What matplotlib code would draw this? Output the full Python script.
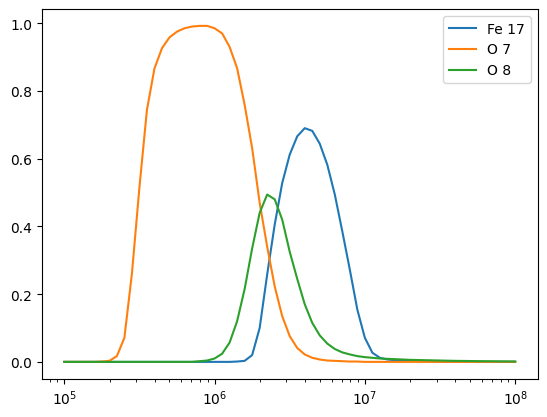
import matplotlib
matplotlib.use('Agg')
import matplotlib.pyplot as plt
import numpy as np

# log10 of temperature (K)
log_t = [5.00, 5.05, 5.10, 5.15, 5.20, 5.25, 5.30, 5.35, 5.40, 5.45,
         5.50, 5.55, 5.60, 5.65, 5.70, 5.75, 5.80, 5.85, 5.90, 5.95,
         6.00, 6.05, 6.10, 6.15, 6.20, 6.25, 6.30, 6.35, 6.40, 6.45,
         6.50, 6.55, 6.60, 6.65, 6.70, 6.75, 6.80, 6.85, 6.90, 6.95,
         7.00, 7.05, 7.10, 7.15, 7.20, 7.25, 7.30, 7.35, 7.40, 7.45,
         7.50, 7.55, 7.60, 7.65, 7.70, 7.75, 7.80, 7.85, 7.90, 7.95,
         8.00]

labels = ['Fe 17', 'O 7', 'O 8']

fe17 = [0.0] * 23 + [0.001, 0.003, 0.02, 0.1, 0.258, 0.405, 0.528, 0.612,
                     0.666, 0.69, 0.682, 0.644, 0.582, 0.494, 0.385, 0.272,
                     0.154, 0.071, 0.027, 0.012, 0.007, 0.005, 0.004, 0.003,
                     0.002, 0.002, 0.001, 0.001] + [0.0] * 10

o7 = [0.0, 0.0, 0.0, 0.0, 0.0, 0.001,
      0.003, 0.017, 0.071, 0.26, 0.515, 0.744, 0.866, 0.926, 0.958, 0.975,
      0.985, 0.99, 0.992, 0.992, 0.985, 0.97, 0.93, 0.867, 0.759, 0.631,
      0.47, 0.34, 0.223, 0.135, 0.076, 0.041, 0.022, 0.012, 0.007, 0.004,
      0.003, 0.002, 0.001, 0.001] + [0.0] * 21

o8 = [0.0] * 18 + [0.002, 0.004, 0.01, 0.024, 0.057, 0.12, 0.215, 0.335,
                   0.44, 0.494, 0.48, 0.42, 0.325, 0.245, 0.17, 0.115,
                   0.078, 0.054, 0.038, 0.028, 0.022, 0.017, 0.014, 0.012,
                   0.01, 0.009, 0.008, 0.007, 0.006, 0.0055, 0.005, 0.0045,
                   0.004, 0.0035, 0.003, 0.0028, 0.0025, 0.0022, 0.002, 0.0018,
                   0.0016, 0.0014, 0.0012]

temps = 10 ** np.array(log_t)

fig, ax = plt.subplots(figsize=(6.4, 4.8), dpi=100)
for frac, lab in zip([fe17, o7, o8], labels):
    ax.plot(temps, frac, label=lab)
ax.set_xscale('log')
ax.legend()

fig.savefig('out.png', dpi=100, bbox_inches='tight')
